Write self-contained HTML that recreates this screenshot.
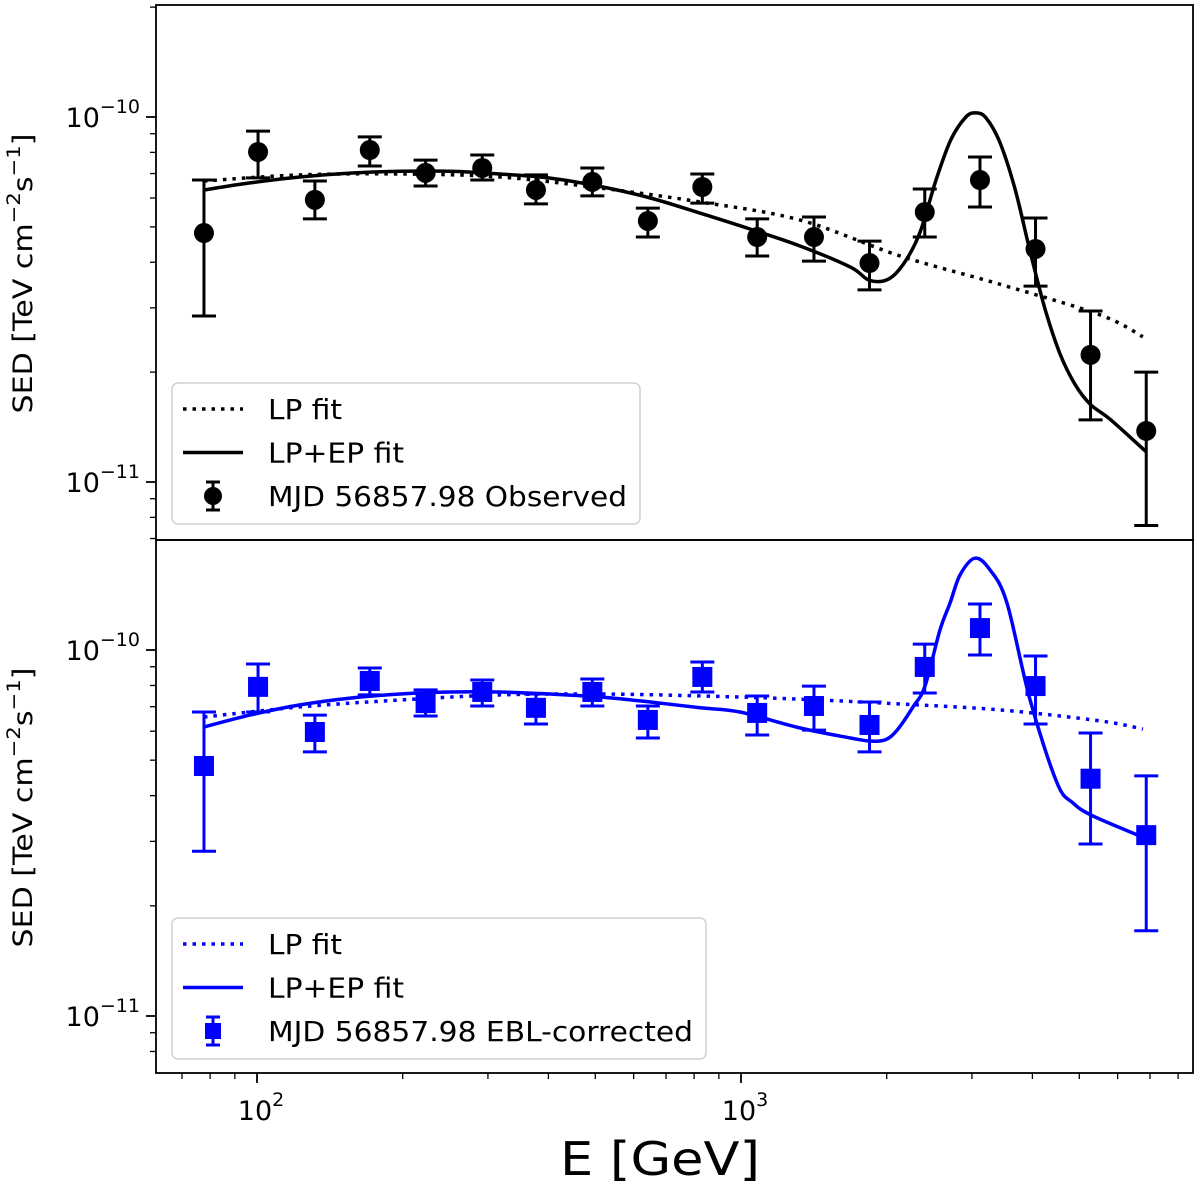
<!DOCTYPE html>
<html><head><meta charset="utf-8"><style>
html,body{margin:0;padding:0;background:#fff;}
svg{display:block;font-family:"DejaVu Sans","Liberation Sans",sans-serif;}
</style></head><body>
<svg id="chart" width="1200" height="1188" viewBox="0 0 1200 1188" xmlns="http://www.w3.org/2000/svg"></svg>
<script>
// ---- data (flux in units of 1e-11 TeV cm^-2 s^-1, energies in GeV) ----
const energies = [77.7,100.5,131.7,171,223,292,377,493,642,832,1080,1415,1843,2397,3117,4060,5275,6875];
const obsFlux = [4.81,8.02,5.93,8.12,7.03,7.25,6.31,6.64,5.19,6.43,4.69,4.69,3.98,5.49,6.72,4.35,2.23,1.38];
const obsHi   = [6.72,9.15,6.68,8.82,7.62,7.87,6.94,7.25,5.63,6.98,5.26,5.32,4.57,6.35,7.77,5.29,2.94,2.00];
const obsLo   = [2.85,6.81,5.26,7.34,6.47,6.72,5.78,6.08,4.69,5.81,4.16,4.03,3.36,4.69,5.67,3.44,1.48,0.76];
const eblFlux = [4.82,7.93,5.97,8.23,7.16,7.68,6.95,7.68,6.44,8.44,6.73,7.03,6.24,8.99,11.48,7.97,4.45,3.12];
const eblHi   = [6.77,9.16,6.64,8.93,7.78,8.28,7.58,8.33,7.03,9.27,7.49,7.97,7.21,10.38,13.36,9.63,5.93,4.53];
const eblLo   = [2.82,6.77,5.27,7.54,6.60,7.03,6.28,7.03,5.75,7.68,5.86,6.04,5.27,7.63,9.69,6.28,2.95,1.71];

const lpE = [77.7,122.7,197.6,318,512,824,1326,2134,3430,5520,6768];
const obsLP = [6.68,6.94,6.98,6.85,6.39,5.85,5.22,4.16,3.48,2.87,2.50];
const eblLP = [6.56,6.99,7.30,7.54,7.58,7.49,7.34,7.12,6.86,6.40,6.08];

const obsFitE = [77.7,96.7,122.7,155.7,197.6,250.7,318,403.5,512,649.5,824,1045,1326,1683,1842,2020,2181,2345,2522,2712,2915,3059,3210,3430,3687,3958,4254,4571,4913,5275,5810,6875];
const obsFit = [6.31,6.60,6.85,7.02,7.10,7.10,6.98,6.80,6.45,6.00,5.45,4.93,4.43,3.88,3.57,3.60,4.01,4.84,6.64,8.65,10.0,10.26,9.94,8.49,6.31,4.27,2.96,2.23,1.84,1.63,1.48,1.21];
const eblFitE = [77.7,96.7,122.7,155.7,197.6,250.7,318,403.5,512,649.5,824,995,1326,1683,1842,1985,2101,2267,2400,2577,2703,2835,3044,3270,3545,3956,4498,4853,5288,6455,6901];
const eblFit = [6.16,6.64,7.08,7.39,7.58,7.68,7.68,7.58,7.44,7.21,6.95,6.77,6.12,5.75,5.64,5.68,6.04,6.99,7.97,11.35,13.43,16.03,17.82,16.55,13.43,7.30,4.33,3.82,3.54,3.16,3.06];

const xTickMajor = [100,1000];
const xTickLabels = ["2","3"];
const yTickLabels = ["−10","−11"];

// ---- axes ----
const X0=156, X1=1193;
const xLogMin = 2 + (X0-257)/484, xLogMax = 2 + (X1-257)/484;
function xs(e){ return X0 + (Math.log10(e)-xLogMin)/(xLogMax-xLogMin)*(X1-X0); }
function mkY(top,bot,logTop,logBot){ return v => top + (logTop-Math.log10(v*1e-11))/(logTop-logBot)*(bot-top); }
const panels = [
  {top:5,bot:540,logTop:-10+(117-5)/365,logBot:-10-(540-117)/365},
  {top:540,bot:1073,logTop:-10+(650-540)/366,logBot:-10-(1073-650)/366}
];
panels.forEach(p=>p.y=mkY(p.top,p.bot,p.logTop,p.logBot));

const svg=document.getElementById('chart');
const NS='http://www.w3.org/2000/svg';
function el(tag,attrs,parent){const e=document.createElementNS(NS,tag);for(const k in attrs)e.setAttribute(k,attrs[k]);(parent||svg).appendChild(e);return e;}
function smooth(pts){
  let d='M'+pts[0][0].toFixed(1)+','+pts[0][1].toFixed(1);
  for(let i=0;i<pts.length-1;i++){
    const p0=pts[Math.max(0,i-1)],p1=pts[i],p2=pts[i+1],p3=pts[Math.min(pts.length-1,i+2)];
    const c1=[p1[0]+(p2[0]-p0[0])/6,p1[1]+(p2[1]-p0[1])/6];
    const c2=[p2[0]-(p3[0]-p1[0])/6,p2[1]-(p3[1]-p1[1])/6];
    d+='C'+c1[0].toFixed(1)+','+c1[1].toFixed(1)+' '+c2[0].toFixed(1)+','+c2[1].toFixed(1)+' '+p2[0].toFixed(1)+','+p2[1].toFixed(1);
  }
  return d;
}

function drawPanel(p,idx,color,flux,hi,lo,lpE_,lp,fitE,fit,square,label){
  const g=el('g',{});
  
  
  for(let dec=-12;dec<=-9;dec++){
    for(let m=1;m<10;m++){
      const v=m*Math.pow(10,dec)/1e-11;
      const y=p.y(v);
      if(y<p.top+0.5||y>p.bot-0.5) continue;
      const len=m===1?10:6;
      const t=el('line',{x1:X0-len,x2:X0,y1:y,y2:y,stroke:'#000','stroke-width':m===1?1.8:1.3},g);
      
      
      if(m===1){
        const lab=el('text',{x:X0-16,y:y+10,'text-anchor':'end','font-size':27,fill:'#000'},g);
        
        
        const t1=el('tspan',{},lab);t1.textContent='10';
        const t2=el('tspan',{'font-size':19,dy:-14},lab);t2.textContent=yTickLabels[dec===-10?0:1];
      }
    }
  }
  const yl=el('text',{transform:`translate(32,${(p.top+p.bot)/2+1}) rotate(-90)`,'text-anchor':'middle','font-size':27,fill:'#000',textLength:280,lengthAdjust:'spacingAndGlyphs'},g);
  
  
  let s=el('tspan',{},yl);s.textContent='SED [TeV cm';
  s=el('tspan',{'font-size':19,dy:-12},yl);s.textContent='−2';
  s=el('tspan',{dy:12},yl);s.textContent='s';
  s=el('tspan',{'font-size':19,dy:-12},yl);s.textContent='−1';
  s=el('tspan',{dy:12},yl);s.textContent=']';
  const lpPath=el('path',{d:smooth(lpE_.map((e,i)=>[xs(e),p.y(lp[i])])),fill:'none',stroke:color,'stroke-width':3.5,'stroke-dasharray':'3.5 6'},g);
  
  
  const fPath=el('path',{d:smooth(fitE.map((e,i)=>[xs(e),p.y(fit[i])])),fill:'none',stroke:color,'stroke-width':3.5,'stroke-linejoin':'round'},g);
  
  
  energies.forEach((e,i)=>{
    const x=xs(e), y=p.y(flux[i]), yh=p.y(hi[i]), yl2=p.y(lo[i]);
    const pg=el('g',{},g);
    
    
    el('line',{x1:x,x2:x,y1:yh,y2:yl2,stroke:color,'stroke-width':3},pg);
    el('line',{x1:x-12,x2:x+12,y1:yh,y2:yh,stroke:color,'stroke-width':3},pg);
    el('line',{x1:x-12,x2:x+12,y1:yl2,y2:yl2,stroke:color,'stroke-width':3},pg);
    if(square) el('rect',{x:x-10,y:y-10,width:20,height:20,fill:color},pg);
    else el('circle',{cx:x,cy:y,r:10,fill:color},pg);
  });
  const fr=el('rect',{x:X0,y:p.top,width:X1-X0,height:p.bot-p.top,fill:'none',stroke:'#000','stroke-width':1.8},g);
  
  
  const lw = idx===0?468:534;
  const ly0 = idx===0?383:918;
  const lg=el('g',{},g);
  
  
  el('rect',{x:172,y:ly0,width:lw,height:141,rx:6,fill:'#fff','fill-opacity':0.85,stroke:'#d0d0d0','stroke-width':1.5},lg);
  const items=[['LP fit','dot',74],['LP+EP fit','solid',136],[label,'marker',idx===0?359:425]];
  items.forEach((it,k)=>{
    const cy=ly0+26+k*43.5;
    const eg=el('g',{},lg);
    
    
    if(it[1]==='dot') el('line',{x1:183,x2:243,y1:cy,y2:cy,stroke:color,'stroke-width':3.5,'stroke-dasharray':'3.5 6'},eg);
    else if(it[1]==='solid') el('line',{x1:183,x2:243,y1:cy,y2:cy,stroke:color,'stroke-width':3.5},eg);
    else{
      el('line',{x1:213,x2:213,y1:cy-14,y2:cy+14,stroke:color,'stroke-width':3},eg);
      el('line',{x1:206,x2:220,y1:cy-14,y2:cy-14,stroke:color,'stroke-width':3},eg);
      el('line',{x1:206,x2:220,y1:cy+14,y2:cy+14,stroke:color,'stroke-width':3},eg);
      if(square) el('rect',{x:205,y:cy-8,width:16,height:16,fill:color},eg);
      else el('circle',{cx:213,cy:cy,r:9,fill:color},eg);
    }
    const tx=el('text',{x:268,y:cy+10,'font-size':28,fill:'#000',textLength:it[2],lengthAdjust:'spacingAndGlyphs'},eg);
    tx.textContent=it[0];
  });
}
drawPanel(panels[0],0,'#000',obsFlux,obsHi,obsLo,lpE,obsLP,obsFitE,obsFit,false,'MJD 56857.98 Observed');
drawPanel(panels[1],1,'#0000ff',eblFlux,eblHi,eblLo,lpE,eblLP,eblFitE,eblFit,true,'MJD 56857.98 EBL-corrected');

const yb=1073;
for(let dec=1;dec<=3;dec++){
  for(let m=1;m<10;m++){
    const e=m*Math.pow(10,dec);
    const x=xs(e);
    if(x<X0||x>X1) continue;
    const len=m===1?10:6;
    const t=el('line',{x1:x,x2:x,y1:yb,y2:yb+len,stroke:'#000','stroke-width':m===1?1.8:1.3});
    
    
  }
}
xTickMajor.forEach((e,i)=>{
  const lab=el('text',{x:xs(e)+4,y:1120,'text-anchor':'middle','font-size':27,fill:'#000'});
  
  
  const a=el('tspan',{},lab);a.textContent='10';
  const b=el('tspan',{'font-size':19,dy:-14},lab);b.textContent=xTickLabels[i];
});
const xt=el('text',{x:660,y:1175,'text-anchor':'middle','font-size':46,fill:'#000',textLength:200,lengthAdjust:'spacingAndGlyphs'});


xt.textContent='E [GeV]';
</script>
</body></html>
